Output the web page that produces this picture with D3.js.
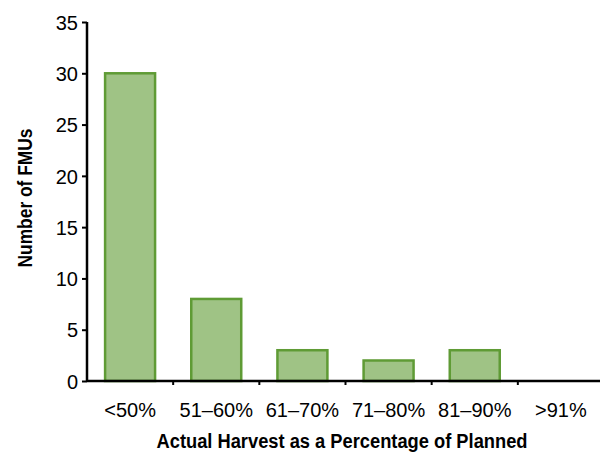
<!DOCTYPE html>
<html>
<head>
<meta charset="utf-8">
<script src="https://cdn.jsdelivr.net/npm/d3@7"></script>
<style>
html,body{margin:0;padding:0;background:#fff;}
svg{display:block;}
</style>
</head>
<body>
<svg id="chart" width="603" height="454"></svg>
<script>
const categories = ["<50%", "51–60%", "61–70%", "71–80%", "81–90%", ">91%"];
const values = [30, 8, 3, 2, 3, 0];
const yTicks = [0, 5, 10, 15, 20, 25, 30, 35];
const xTitle = "Actual Harvest as a Percentage of Planned";
const yTitle = "Number of FMUs";

const svg = d3.select("#chart");
const mLeft = 87, mRight = 604, mTop = 22, mBottom = 381;

const x = d3.scaleBand().domain(categories).range([mLeft, mRight]).paddingInner(0.42).paddingOuter(0.21);
const xb = d3.scaleBand().domain(categories).range([mLeft, mRight]);
const y = d3.scaleLinear().domain([0, 35]).range([mBottom, mTop]);

// bars
svg.append("g").selectAll("rect").data(categories.map((c,i)=>({c, v: values[i]})).filter(d=>d.v>0))
  .join("rect")
  .attr("x", d => x(d.c))
  .attr("y", d => y(d.v))
  .attr("width", x.bandwidth())
  .attr("height", d => y(0) - y(d.v))
  .attr("fill", "#9fc385")
  .attr("stroke", "#5f9b35")
  .attr("stroke-width", 2.5);

// y axis
const yAxis = d3.axisLeft(y).tickValues(yTicks).tickSize(5).tickPadding(4);
const gy = svg.append("g").attr("transform", `translate(${mLeft},0)`).call(yAxis);
gy.select(".domain").attr("stroke", "#000").attr("stroke-width", 2.5).attr("d", `M0,${mTop}V${mBottom}`);
gy.selectAll(".tick line").attr("stroke", "#000").attr("stroke-width", 2);
gy.selectAll(".tick text").attr("font-family", "Liberation Sans, Arial, sans-serif").attr("font-size", 20).attr("fill", "#000").attr("dy", "0.36em");

// x axis
const gx = svg.append("g").attr("transform", `translate(0,${mBottom})`);
gx.append("line").attr("x1", mLeft).attr("x2", mRight - 4).attr("y1", 0).attr("y2", 0).attr("stroke", "#000").attr("stroke-width", 2.5);
gx.selectAll("line.tk").data(categories.slice(1)).join("line").attr("class","tk")
  .attr("x1", d => xb(d)).attr("x2", d => xb(d)).attr("y1", 0).attr("y2", 4)
  .attr("stroke", "#000").attr("stroke-width", 2);
gx.selectAll("text").data(categories).join("text")
  .attr("x", d => xb(d) + xb.bandwidth()/2)
  .attr("y", 36)
  .attr("text-anchor", "middle")
  .attr("font-family", "Liberation Sans, Arial, sans-serif")
  .attr("font-size", 20)
  .attr("fill", "#000")
  .text(d => d);

// titles
svg.append("text")
  .attr("x", 342).attr("y", 448)
  .attr("text-anchor", "middle")
  .attr("font-family", "Liberation Sans, Arial, sans-serif")
  .attr("font-weight", "bold")
  .attr("font-size", 20)
  .attr("textLength", 371)
  .attr("lengthAdjust", "spacingAndGlyphs")
  .attr("fill", "#000")
  .text(xTitle);

svg.append("text")
  .attr("transform", "translate(32,198) rotate(-90)")
  .attr("text-anchor", "middle")
  .attr("font-family", "Liberation Sans, Arial, sans-serif")
  .attr("font-weight", "bold")
  .attr("font-size", 21)
  .attr("textLength", 139)
  .attr("lengthAdjust", "spacingAndGlyphs")
  .attr("fill", "#000")
  .text(yTitle);
</script>
</body>
</html>
